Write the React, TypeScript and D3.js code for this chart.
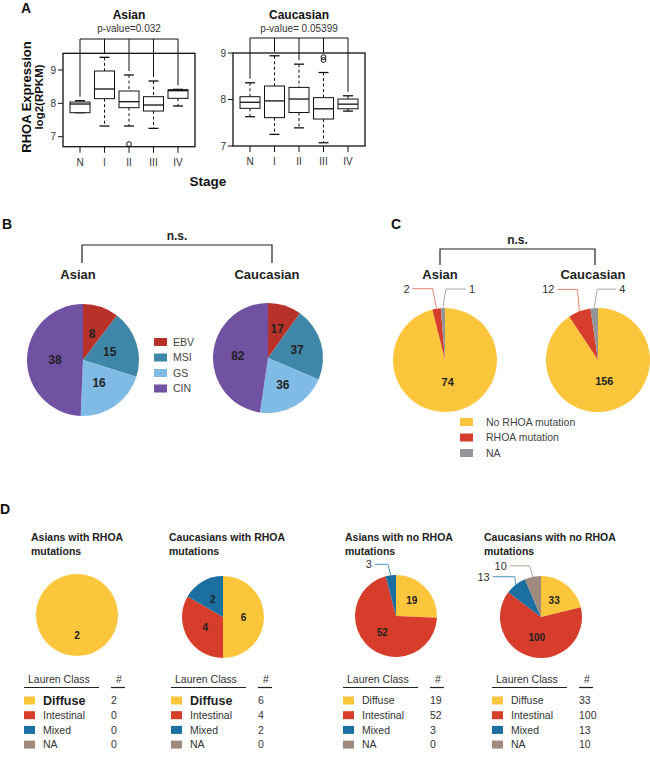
import * as d3 from 'd3';

const FONT = '"Liberation Sans", Arial, Helvetica, sans-serif';

// ---- Panel A: RHOA expression by stage (box summaries)
const stages = ['N', 'I', 'II', 'III', 'IV'];
const asianMax = [8.08, 9.38, 8.85, 8.67, 8.42];
const asianQ3 = [8.04, 8.97, 8.37, 8.2, 8.41];
const asianMedian = [7.98, 8.43, 8.05, 7.95, 8.38];
const asianQ1 = [7.72, 8.14, 7.87, 7.77, 8.15];
const asianMin = [7.72, 7.32, 7.32, 7.25, 7.92];
const asianOutliers = [[], [], [6.78], [], []];

const cauMax = [8.36, 8.94, 8.76, 8.58, 8.08];
const cauQ3 = [8.06, 8.29, 8.26, 8.04, 8.01];
const cauMedian = [7.94, 7.97, 8.01, 7.8, 7.9];
const cauQ1 = [7.81, 7.61, 7.72, 7.58, 7.8];
const cauMin = [7.63, 7.25, 7.39, 7.07, 7.75];
const cauOutliers = [[], [], [], [8.91, 8.85], []];

// ---- Panel B: molecular subtypes
const subtypes = ['EBV', 'MSI', 'GS', 'CIN'];
const subtypeColors = ['#b8322a', '#3f87a9', '#80bbe5', '#7051a2'];
const asianSubtypes = [8, 15, 16, 38];
const cauSubtypes = [17, 37, 36, 82];

// ---- Panel C: RHOA mutation status
const mutationClasses = ['No RHOA mutation', 'RHOA mutation', 'NA'];
const mutationColors = ['#fbc63b', '#d63d2b', '#949598'];
const asianMutation = [74, 2, 1];
const cauMutation = [156, 12, 4];

// ---- Panel D: Lauren class
const laurenClasses = ['Diffuse', 'Intestinal', 'Mixed', 'NA'];
const laurenColors = ['#fbc63b', '#d63d2b', '#1b6fa1', '#a08a7d'];
const asianRhoaLauren = [2, 0, 0, 0];
const cauRhoaLauren = [6, 4, 2, 0];
const asianNoRhoaLauren = [19, 52, 3, 0];
const cauNoRhoaLauren = [33, 100, 13, 10];

type Callout = { index: number; ex: number; h: number; dx: number; color: string };

function BoxPanel(props: {
  title: string; pText: string; xRange: [number, number]; yRange: [number, number];
  frame: [number, number]; bracketY: number;
  mx: number[]; q3: number[]; med: number[]; q1: number[]; mn: number[]; out: number[][];
}) {
  const { xRange, yRange, frame, bracketY } = props;
  const x = d3.scalePoint<string>().domain(stages).range(xRange);
  const y = d3.scaleLinear().domain([7, 9]).range(yRange);
  const left = xRange[0] - 17;
  const right = xRange[1] + 17;
  const top = y(frame[1]);
  const bottom = y(frame[0]);
  const cx = (xRange[0] + xRange[1]) / 2;
  const bw = 10;
  const cw = 5;
  return (
    <g fill="none" stroke="#111" strokeWidth={1}>
      <text x={cx} y={19} textAnchor="middle" fontSize={12} fontWeight="bold" fill="#111" stroke="none">{props.title}</text>
      <text x={cx} y={32} textAnchor="middle" fontSize={10} fill="#333" stroke="none">{props.pText}</text>
      <line x1={x('N')} x2={x('IV')} y1={bracketY} y2={bracketY} />
      {stages.map((s, i) => {
        const topVal = Math.max(props.mx[i], ...props.out[i]);
        return <line key={s} x1={x(s)} x2={x(s)} y1={bracketY} y2={y(topVal) - 4} />;
      })}
      <rect x={left} y={top} width={right - left} height={bottom - top} strokeWidth={1.3} />
      {[7, 8, 9].map(t => (
        <g key={t}>
          <line x1={left - 5} x2={left} y1={y(t)} y2={y(t)} />
          <text x={left - 7} y={y(t)} dy="0.35em" textAnchor="end" fontSize={10} fill="#333" stroke="none">{t}</text>
        </g>
      ))}
      {stages.map((s, i) => {
        const xc = x(s)!;
        return (
          <g key={s}>
            <line x1={xc} x2={xc} y1={bottom} y2={bottom + 6} />
            <text x={xc} y={bottom + 19} textAnchor="middle" fontSize={10} fill="#333" stroke="none">{s}</text>
            <line x1={xc} x2={xc} y1={y(props.mx[i])} y2={y(props.q3[i])} strokeDasharray="3,2.5" />
            <line x1={xc} x2={xc} y1={y(props.q1[i])} y2={y(props.mn[i])} strokeDasharray="3,2.5" />
            <line x1={xc - cw} x2={xc + cw} y1={y(props.mx[i])} y2={y(props.mx[i])} strokeWidth={1.3} />
            <line x1={xc - cw} x2={xc + cw} y1={y(props.mn[i])} y2={y(props.mn[i])} strokeWidth={1.3} />
            <rect x={xc - bw} y={y(props.q3[i])} width={bw * 2} height={y(props.q1[i]) - y(props.q3[i])} fill="#fff" />
            <line x1={xc - bw} x2={xc + bw} y1={y(props.med[i])} y2={y(props.med[i])} strokeWidth={1.3} />
            {props.out[i].map((o, j) => <circle key={j} cx={xc} cy={y(o)} r={2.4} />)}
          </g>
        );
      })}
    </g>
  );
}

function Pie(props: {
  cx: number; cy: number; r: number; values: number[]; colors: string[];
  labelFrac: number; fontSize: number; callouts?: Callout[]; calloutSize?: number;
}) {
  const { cx, cy, r, values, colors } = props;
  const pie = d3.pie<number>().sort(null).value(d => d);
  const arcs = pie(values);
  const arc = d3.arc<d3.PieArcDatum<number>>().innerRadius(0).outerRadius(r);
  const labelArc = d3.arc<d3.PieArcDatum<number>>().innerRadius(r * props.labelFrac).outerRadius(r * props.labelFrac);
  const edgeArc = d3.arc<d3.PieArcDatum<number>>().innerRadius(r).outerRadius(r);
  const callouts = props.callouts || [];
  const calloutIdx = callouts.map(c => c.index);
  return (
    <g transform={`translate(${cx},${cy})`}>
      {arcs.map((a, i) => (a.value > 0 ? <path key={i} d={arc(a) || ''} fill={colors[i]} /> : null))}
      {arcs.map((a, i) => {
        if (a.value <= 0 || calloutIdx.includes(i)) return null;
        const [lx, ly] = labelArc.centroid(a);
        return (
          <text key={i} x={lx} y={ly} dy="0.35em" textAnchor="middle" fontSize={props.fontSize} fontWeight="bold" fill="#222">{a.value}</text>
        );
      })}
      {callouts.map((c, k) => {
        const a = arcs[c.index];
        const [px, py] = edgeArc.centroid(a);
        const ex = px + c.ex;
        const ey = py - c.h;
        const lx = ex + c.dx;
        return (
          <g key={k}>
            <polyline points={`${px},${py} ${ex},${ey} ${lx},${ey}`} fill="none" stroke={c.color} strokeWidth={1} />
            <text x={lx + (c.dx < 0 ? -3 : 3)} y={ey} dy="0.35em" textAnchor={c.dx < 0 ? 'end' : 'start'}
              fontSize={props.calloutSize || 11} fill="#333">{a.value}</text>
          </g>
        );
      })}
    </g>
  );
}

function Bracket({ x1, x2, y, drop, label }: { x1: number; x2: number; y: number; drop: number; label: string }) {
  return (
    <g>
      <text x={(x1 + x2) / 2} y={y - 5} textAnchor="middle" fontSize={12} fontWeight="bold" fill="#222">{label}</text>
      <path d={`M${x1},${y + drop}V${y}H${x2}V${y + drop}`} fill="none" stroke="#222" strokeWidth={1.2} />
    </g>
  );
}

function LaurenTable({ x0, values, boldDiffuse }: { x0: number; values: number[]; boldDiffuse?: boolean }) {
  const rowY = (i: number) => 700.5 + i * 14.7;
  return (
    <g fontSize={10.5} fill="#333">
      <text x={x0 + 4} y={683}>Lauren Class</text>
      <line x1={x0} x2={x0 + 75} y1={687.5} y2={687.5} stroke="#222" strokeWidth={1.2} />
      <text x={x0 + 95} y={683} textAnchor="middle">#</text>
      <line x1={x0 + 87} x2={x0 + 101} y1={687.5} y2={687.5} stroke="#222" strokeWidth={1.2} />
      {laurenClasses.map((c, i) => {
        const bold = boldDiffuse && i === 0;
        return (
          <g key={c}>
            <rect x={x0} y={rowY(i) - 4} width={11} height={8} fill={laurenColors[i]} />
            <text x={x0 + 19} y={rowY(i)} dy="0.35em" fontSize={bold ? 12.5 : 10.5} fontWeight={bold ? 'bold' : 'normal'} fill={bold ? '#222' : '#333'}>{c}</text>
            <text x={x0 + 87} y={rowY(i)} dy="0.35em">{values[i]}</text>
          </g>
        );
      })}
    </g>
  );
}

function PieTitle({ x, lines }: { x: number; lines: string[] }) {
  return (
    <text x={x} y={541} fontSize={10.5} fontWeight="bold" fill="#222">
      {lines.map((l, i) => <tspan key={i} x={x} dy={i === 0 ? 0 : 13.5}>{l}</tspan>)}
    </text>
  );
}

export default function App() {
  return (
    <svg width={650} height={760} fontFamily={FONT}
      style={{ position: 'absolute', left: 0, top: 0, background: '#fff', display: 'block' }}>
      {/* Panel A */}
      <text x={21} y={13} fontSize={14} fontWeight="bold" fill="#111">A</text>
      <text transform="translate(31,97) rotate(-90)" textAnchor="middle" fontSize={13} fontWeight="bold" fill="#111">RHOA Expression</text>
      <text transform="translate(43,97) rotate(-90)" textAnchor="middle" fontSize={11.5} fontWeight="bold" fill="#111">log2(RPKM)</text>
      <BoxPanel title="Asian" pText="p-value=0.032" xRange={[80, 178]} yRange={[136.7, 70]} frame={[6.7, 9.5]}
        bracketY={39} mx={asianMax} q3={asianQ3} med={asianMedian} q1={asianQ1} mn={asianMin} out={asianOutliers} />
      <BoxPanel title="Caucasian" pText="p-value= 0.05399" xRange={[250, 348]} yRange={[146, 53]} frame={[7, 9]}
        bracketY={38} mx={cauMax} q3={cauQ3} med={cauMedian} q1={cauQ1} mn={cauMin} out={cauOutliers} />
      <text x={208} y={186} textAnchor="middle" fontSize={13.5} fontWeight="bold" fill="#111">Stage</text>

      {/* Panel B */}
      <text x={2} y={229} fontSize={14} fontWeight="bold" fill="#111">B</text>
      <Bracket x1={82} x2={272} y={245} drop={18} label="n.s." />
      <text x={78} y={279} textAnchor="middle" fontSize={13} fontWeight="bold" fill="#222">Asian</text>
      <text x={267} y={279} textAnchor="middle" fontSize={13} fontWeight="bold" fill="#222">Caucasian</text>
      <Pie cx={83} cy={360} r={56} values={asianSubtypes} colors={subtypeColors} labelFrac={0.5} fontSize={12} />
      <Pie cx={268} cy={358} r={55} values={cauSubtypes} colors={subtypeColors} labelFrac={0.55} fontSize={12} />
      {subtypes.map((s, i) => (
        <g key={s}>
          <rect x={154} y={342 + i * 15.5 - 4} width={13} height={8} fill={subtypeColors[i]} />
          <text x={173} y={342 + i * 15.5} dy="0.35em" fontSize={10.5} fill="#444">{s}</text>
        </g>
      ))}

      {/* Panel C */}
      <text x={391} y={229} fontSize={14} fontWeight="bold" fill="#111">C</text>
      <Bracket x1={440} x2={595} y={249} drop={16} label="n.s." />
      <text x={440} y={279} textAnchor="middle" fontSize={13} fontWeight="bold" fill="#222">Asian</text>
      <text x={593} y={279} textAnchor="middle" fontSize={13} fontWeight="bold" fill="#222">Caucasian</text>
      <Pie cx={445} cy={360} r={52} values={asianMutation} colors={mutationColors} labelFrac={0.42} fontSize={11}
        callouts={[
          { index: 1, ex: -4, h: 20, dx: -20, color: '#e8856f' },
          { index: 2, ex: 3, h: 19, dx: 20, color: '#aaaaaa' },
        ]} />
      <Pie cx={598} cy={360} r={52} values={cauMutation} colors={mutationColors} labelFrac={0.42} fontSize={11}
        callouts={[
          { index: 1, ex: -2, h: 22, dx: -20, color: '#e8856f' },
          { index: 2, ex: 3, h: 19, dx: 19, color: '#aaaaaa' },
        ]} />
      {mutationClasses.map((m, i) => (
        <g key={m}>
          <rect x={460} y={422 + i * 15.5 - 4} width={13} height={8} fill={mutationColors[i]} />
          <text x={486} y={422 + i * 15.5} dy="0.35em" fontSize={10.5} fill="#444">{m}</text>
        </g>
      ))}

      {/* Panel D */}
      <text x={0} y={514} fontSize={14} fontWeight="bold" fill="#111">D</text>
      <PieTitle x={31} lines={['Asians with RHOA', 'mutations']} />
      <PieTitle x={169} lines={['Caucasians with RHOA', 'mutations']} />
      <PieTitle x={345} lines={['Asians with no RHOA', 'mutations']} />
      <PieTitle x={484} lines={['Caucasians with no RHOA', 'mutations']} />
      <Pie cx={77} cy={615} r={41} values={asianRhoaLauren} colors={laurenColors} labelFrac={0.5} fontSize={10} />
      <Pie cx={223} cy={617} r={41} values={cauRhoaLauren} colors={laurenColors} labelFrac={0.5} fontSize={10} />
      <Pie cx={396} cy={616} r={41} values={asianNoRhoaLauren} colors={laurenColors} labelFrac={0.53} fontSize={10}
        callouts={[{ index: 2, ex: -3, h: 11, dx: -13, color: '#4b93c2' }]} />
      <Pie cx={541} cy={617} r={41} values={cauNoRhoaLauren} colors={laurenColors} labelFrac={0.52} fontSize={10}
        callouts={[
          { index: 2, ex: -1, h: 8, dx: -22, color: '#4b93c2' },
          { index: 3, ex: -3, h: 11, dx: -20, color: '#b8a898' },
        ]} />
      <LaurenTable x0={24} values={asianRhoaLauren} boldDiffuse />
      <LaurenTable x0={171} values={cauRhoaLauren} boldDiffuse />
      <LaurenTable x0={343} values={asianNoRhoaLauren} />
      <LaurenTable x0={492} values={cauNoRhoaLauren} />
    </svg>
  );
}
